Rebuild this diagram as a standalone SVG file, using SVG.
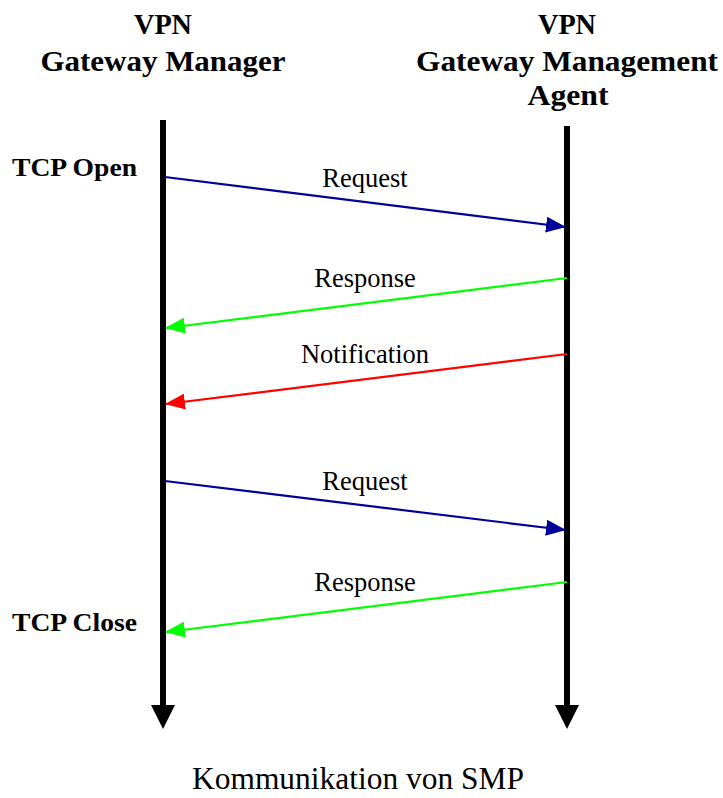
<svg xmlns="http://www.w3.org/2000/svg" width="723" height="798" viewBox="0 0 723 798">
<style>
.hdr{font-family:"Liberation Serif","DejaVu Serif",serif;font-weight:bold;font-size:30px;fill:#000;text-anchor:middle}
.side{font-family:"Liberation Serif","DejaVu Serif",serif;font-weight:bold;font-size:25px;fill:#000}
.lbl{font-family:"Liberation Serif","DejaVu Serif",serif;font-size:26.5px;fill:#000;text-anchor:middle}
.cap{font-family:"Liberation Serif","DejaVu Serif",serif;font-size:32px;fill:#000;text-anchor:middle}
.life{stroke:#000;stroke-width:6;fill:none}
.msg{stroke-width:2.2;fill:none}
</style>
<defs>
<marker id="hBlue" markerWidth="20" markerHeight="16" refX="19" refY="8" orient="auto" markerUnits="userSpaceOnUse"><path d="M0,0 L20,8 L0,16 Z" fill="#000099"/></marker>
<marker id="hGreen" markerWidth="20" markerHeight="16" refX="19" refY="8" orient="auto" markerUnits="userSpaceOnUse"><path d="M0,0 L20,8 L0,16 Z" fill="#00ff00"/></marker>
<marker id="hRed" markerWidth="20" markerHeight="16" refX="19" refY="8" orient="auto" markerUnits="userSpaceOnUse"><path d="M0,0 L20,8 L0,16 Z" fill="#ff0000"/></marker>
</defs>
<rect width="723" height="798" fill="#fff"/>
<g id="manager">
<text class="hdr" x="163" y="34" textLength="58" lengthAdjust="spacingAndGlyphs">VPN</text>
<text class="hdr" x="163" y="71" textLength="245" lengthAdjust="spacingAndGlyphs">Gateway Manager</text>
<line class="life" x1="163" y1="120" x2="163" y2="708"/>
<polygon points="151,705 175,705 163,729" fill="#000"/>
</g>
<g id="agent">
<text class="hdr" x="567" y="34" textLength="58" lengthAdjust="spacingAndGlyphs">VPN</text>
<text class="hdr" x="567" y="71" textLength="302" lengthAdjust="spacingAndGlyphs">Gateway Management</text>
<text class="hdr" x="568" y="105" textLength="81" lengthAdjust="spacingAndGlyphs">Agent</text>
<line class="life" x1="567" y1="126" x2="567" y2="708"/>
<polygon points="555,705 579,705 567,729" fill="#000"/>
</g>
<g id="tcp-open"><text class="side" x="12" y="176" textLength="125" lengthAdjust="spacingAndGlyphs">TCP Open</text></g>
<g id="tcp-close"><text class="side" x="12" y="631" textLength="125" lengthAdjust="spacingAndGlyphs">TCP Close</text></g>
<g id="connectors">
<line class="msg" x1="165" y1="177" x2="565" y2="227" stroke="#000099" marker-end="url(#hBlue)"/>
<text class="lbl" x="365" y="187">Request</text>
<line class="msg" x1="567" y1="278" x2="166" y2="328" stroke="#00ff00" marker-end="url(#hGreen)"/>
<text class="lbl" x="365" y="287">Response</text>
<line class="msg" x1="567" y1="354" x2="166" y2="404" stroke="#ff0000" marker-end="url(#hRed)"/>
<text class="lbl" x="365" y="363">Notification</text>
<line class="msg" x1="165" y1="481" x2="565" y2="530" stroke="#000099" marker-end="url(#hBlue)"/>
<text class="lbl" x="365" y="490">Request</text>
<line class="msg" x1="567" y1="582" x2="166" y2="632" stroke="#00ff00" marker-end="url(#hGreen)"/>
<text class="lbl" x="365" y="591">Response</text>
</g>
<g id="caption"><text class="cap" x="358" y="789" textLength="332" lengthAdjust="spacingAndGlyphs">Kommunikation von SMP</text></g>
</svg>
